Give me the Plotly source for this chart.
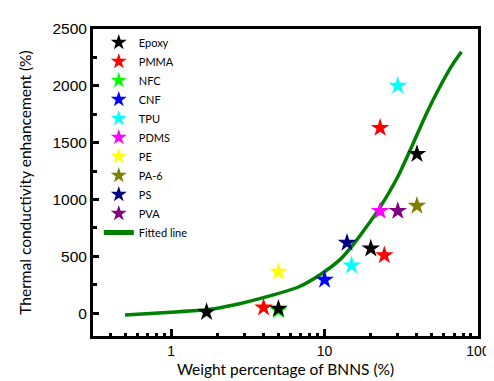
import plotly.graph_objects as go

# ---- data ----
series_names = ["Epoxy", "PMMA", "NFC", "CNF", "TPU", "PDMS", "PE", "PA-6", "PS", "PVA"]
series_colors = ["#000000", "#FF0000", "#00FF00", "#0000FF", "#00FFFF",
                 "#FF00FF", "#FFFF00", "#808000", "#000080", "#800080"]
epoxy_x = [1.7, 5, 20, 40]
epoxy_y = [10, 40, 570, 1400]
pmma_x = [4, 24.5, 23]
pmma_y = [50, 510, 1630]
nfc_x = [5]
nfc_y = [25]
cnf_x = [10]
cnf_y = [295]
tpu_x = [15, 30]
tpu_y = [420, 2000]
pdms_x = [23]
pdms_y = [900]
pe_x = [5]
pe_y = [365]
pa6_x = [40]
pa6_y = [945]
ps_x = [14]
ps_y = [620]
pva_x = [30]
pva_y = [900]

fit_x = [0.5, 1.0, 1.7, 2.55, 4.15, 6.75, 9.5, 12.7, 15.5, 18.4, 22.8, 30, 37, 46, 56, 68, 78]
fit_y = [-15, 9, 30, 72, 144, 231, 346, 476, 610, 745, 925, 1200, 1466, 1753, 1983, 2184, 2300]

x_tickvals = [1, 10, 100]
x_ticktext = ["1", "10", "100"]
x_minor = [0.4, 0.5, 0.6, 0.7, 0.8, 0.9, 2, 3, 4, 5, 6, 7, 8, 9,
           20, 30, 40, 50, 60, 70, 80, 90]
y_tickvals = [0, 500, 1000, 1500, 2000, 2500]

xs = [epoxy_x, pmma_x, nfc_x, cnf_x, tpu_x, pdms_x, pe_x, pa6_x, ps_x, pva_x]
ys = [epoxy_y, pmma_y, nfc_y, cnf_y, tpu_y, pdms_y, pe_y, pa6_y, ps_y, pva_y]

fig = go.Figure()

fig.add_trace(go.Scatter(
    x=fit_x, y=fit_y, mode="lines", name="Fitted line",
    line=dict(color="#008000", width=3.5, shape="spline", smoothing=0.6),
    legendrank=11,
))

# draw in reverse so Epoxy sits on top of NFC
for i in reversed(range(len(series_names))):
    fig.add_trace(go.Scatter(
        x=xs[i], y=ys[i], mode="markers", name=series_names[i],
        marker=dict(symbol="star", size=14, color=series_colors[i],
                    line=dict(width=0)),
        legendrank=i + 1,
    ))

axis_common = dict(
    showline=True, linecolor="black", linewidth=3, mirror=True,
    showgrid=False, zeroline=False,
    ticks="inside", tickcolor="black", tickwidth=2.5,
)

fig.update_xaxes(
    type="log", range=[-0.51, 2.0],
    tickmode="array", tickvals=x_tickvals, ticktext=x_ticktext, ticklen=7,
    tickfont=dict(family="Liberation Sans, Arial", size=14, color="black"),
    minor=dict(tickmode="array", tickvals=x_minor, ticks="inside",
               ticklen=3, tickwidth=2.5, tickcolor="black"),
    title=dict(text="Weight percentage of BNNS (%)",
               font=dict(family="Lato", size=15.5, color="black"), standoff=7),
    **axis_common,
)
fig.update_yaxes(
    range=[-200, 2500],
    tickmode="array", tickvals=y_tickvals, ticklen=6,
    tickfont=dict(family="Liberation Sans, Arial", size=15.5, color="black"),
    minor=dict(dtick=250, ticks="inside", ticklen=4, tickwidth=2.5,
               tickcolor="black"),
    title=dict(text="Thermal conductivity enhancement (%)",
               font=dict(family="Lato", size=15.5, color="black"), standoff=17),
    **axis_common,
)

fig.update_layout(
    width=494, height=381,
    margin=dict(l=85, r=13, t=21, b=48),
    paper_bgcolor="white", plot_bgcolor="white",
    showlegend=True,
    legend=dict(x=0.015, y=0.29, xanchor="left", yanchor="bottom",
                bgcolor="rgba(0,0,0,0)", borderwidth=0,
                font=dict(family="Lato", size=11, color="black"),
                itemsizing="constant"),
)

fig.write_html("out.html")
